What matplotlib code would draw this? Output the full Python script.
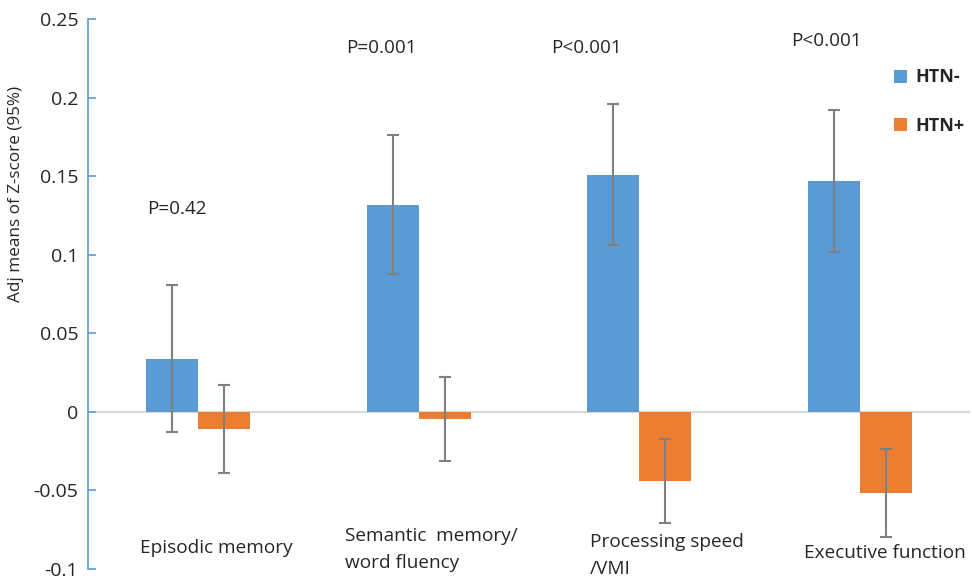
import matplotlib
matplotlib.use("Agg")
import matplotlib.pyplot as plt
import numpy as np

categories = ["Episodic memory", "Semantic  memory/\nword fluency", "Processing speed\n/VMI", "Executive function"]
htn_neg = [0.034, 0.132, 0.151, 0.147]
htn_neg_err = [0.047, 0.044, 0.045, 0.045]
htn_pos = [-0.011, -0.0045, -0.044, -0.0516]
htn_pos_err = [0.028, 0.027, 0.027, 0.028]
p_labels = ["P=0.42", "P=0.001", "P<0.001", "P<0.001"]
p_y = [0.129, 0.232, 0.232, 0.236]
p_x_off = [-0.23, -0.33, -0.40, -0.31]
cat_y = [-0.0865, -0.0875, -0.0915, -0.0895]
cat_x_off = [-0.265, -0.335, -0.225, -0.255]
series_names = ["HTN-", "HTN+"]
yticks = [-0.1, -0.05, 0, 0.05, 0.1, 0.15, 0.2, 0.25]
ytick_labels = ["-0.1", "-0.05", "0", "0.05", "0.1", "0.15", "0.2", "0.25"]

plt.rcParams['font.family'] = ['Open Sans', 'DejaVu Sans']
text_color = "#262626"
blue = "#5b9bd5"
orange = "#ed7d31"

fig = plt.figure(figsize=(9.72, 5.83), dpi=100)
ax = fig.add_axes([0.0905, 0.024, 0.9075, 0.943])

x = np.arange(len(categories))
w = 0.236
ax.axhline(0, color="#d9d9d9", lw=1.5, zorder=1)
b1 = ax.bar(x - w/2, htn_neg, w, color=blue, zorder=2, label=series_names[0])
b2 = ax.bar(x + w/2, htn_pos, w, color=orange, zorder=2, label=series_names[1])
ax.errorbar(x - w/2, htn_neg, yerr=htn_neg_err, fmt="none", ecolor="#808080",
            elinewidth=1.5, capsize=4.5, capthick=1.5, zorder=3)
ax.errorbar(x + w/2, htn_pos, yerr=htn_pos_err, fmt="none", ecolor="#808080",
            elinewidth=1.5, capsize=4.5, capthick=1.5, zorder=3)

ax.set_xlim(-0.5, 3.5)
ax.set_ylim(-0.1, 0.25)
ax.set_yticks(yticks)
ax.set_yticklabels(ytick_labels, fontsize=14, color=text_color)
ax.tick_params(axis='y', direction='in', length=6, width=1.2, color=blue, pad=7)
ax.set_xticks([])
for s in ["top", "right", "bottom"]:
    ax.spines[s].set_visible(False)
ax.spines["left"].set_color(blue)
ax.spines["left"].set_linewidth(1.2)

for i, c in enumerate(categories):
    ax.text(x[i] + cat_x_off[i], cat_y[i], c, fontsize=13.7, color=text_color,
            ha="left", va="center", linespacing=1.6)
for i, p in enumerate(p_labels):
    ax.text(x[i] + p_x_off[i], p_y[i], p, fontsize=13.6, color=text_color,
            ha="left", va="center")

fig.text(0.016, 0.667, "Adj means of Z-score (95%)", rotation=90, fontsize=12.3,
         color=text_color, ha="center", va="center")

leg = ax.legend(handles=[b1, b2], loc="upper left", bbox_to_anchor=(0.895, 0.94),
                frameon=False, handlelength=0.75, handleheight=0.75,
                labelspacing=1.7, handletextpad=0.45,
                prop={'weight': 'bold', 'size': 13})
for t in leg.get_texts():
    t.set_color(text_color)

fig.savefig("out.png", dpi=100)
